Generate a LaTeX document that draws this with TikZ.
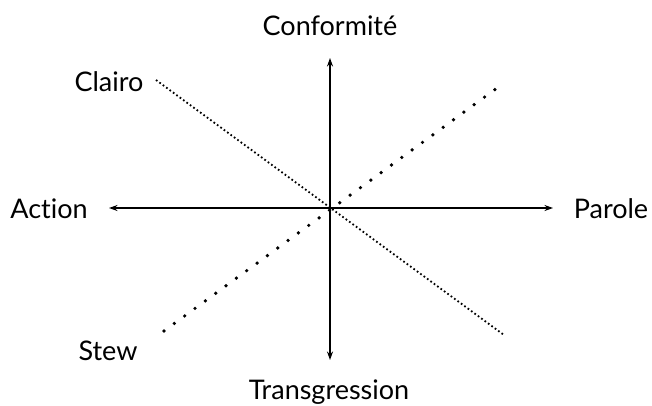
\documentclass[tikz,border=0pt]{standalone}
\usepackage{fontspec}
\setmainfont[Ligatures=NoCommon]{Lato}
\usetikzlibrary{arrows.meta, positioning}

\begin{document}
\begin{tikzpicture}[x=1pt, y=-1pt, font=\fontsize{27}{31}\selectfont,
    axis/.style={-{Stealth[length=8.5pt, width=6pt]}, line width=1.4pt},
    label/.style={anchor=base, inner sep=0pt},
    fineline/.style={line width=1.8pt, dash pattern=on 1.7pt off 2.5pt},
    coarseline/.style={line width=3.7pt, line cap=round, dash pattern=on 0pt off 12.8pt}]
    \useasboundingbox (0,0) rectangle (652,405);
    \coordinate (origin) at (330,208);
    \coordinate (north) at (330,58);
    \coordinate (south) at (330,360);
    \coordinate (west) at (109,208);
    \coordinate (east) at (553,208);
    \coordinate (clairoend) at (156,80);
    \coordinate (clairoend2) at (504,335);
    \coordinate (stewend) at (164,331);
    \coordinate (stewend2) at (497,88);
    \node[label] (conf) at (330,35) {Conformité};
    \node[label] (trans) at (329,399) {Transgression};
    \node[label] (action) at (49,218) {Action};
    \node[label] (parole) at (611,218) {Parole};
    \node[label] (clairo) at (109,91) {Clairo};
    \node[label] (stew) at (108,360) {Stew};
    \foreach \n in {north, south, west, east}
    \draw[axis] (origin) -- (\n);
    \draw[fineline] (clairoend) -- (clairoend2);
    \draw[coarseline] (stewend) -- (stewend2);
\end{tikzpicture}
\end{document}
